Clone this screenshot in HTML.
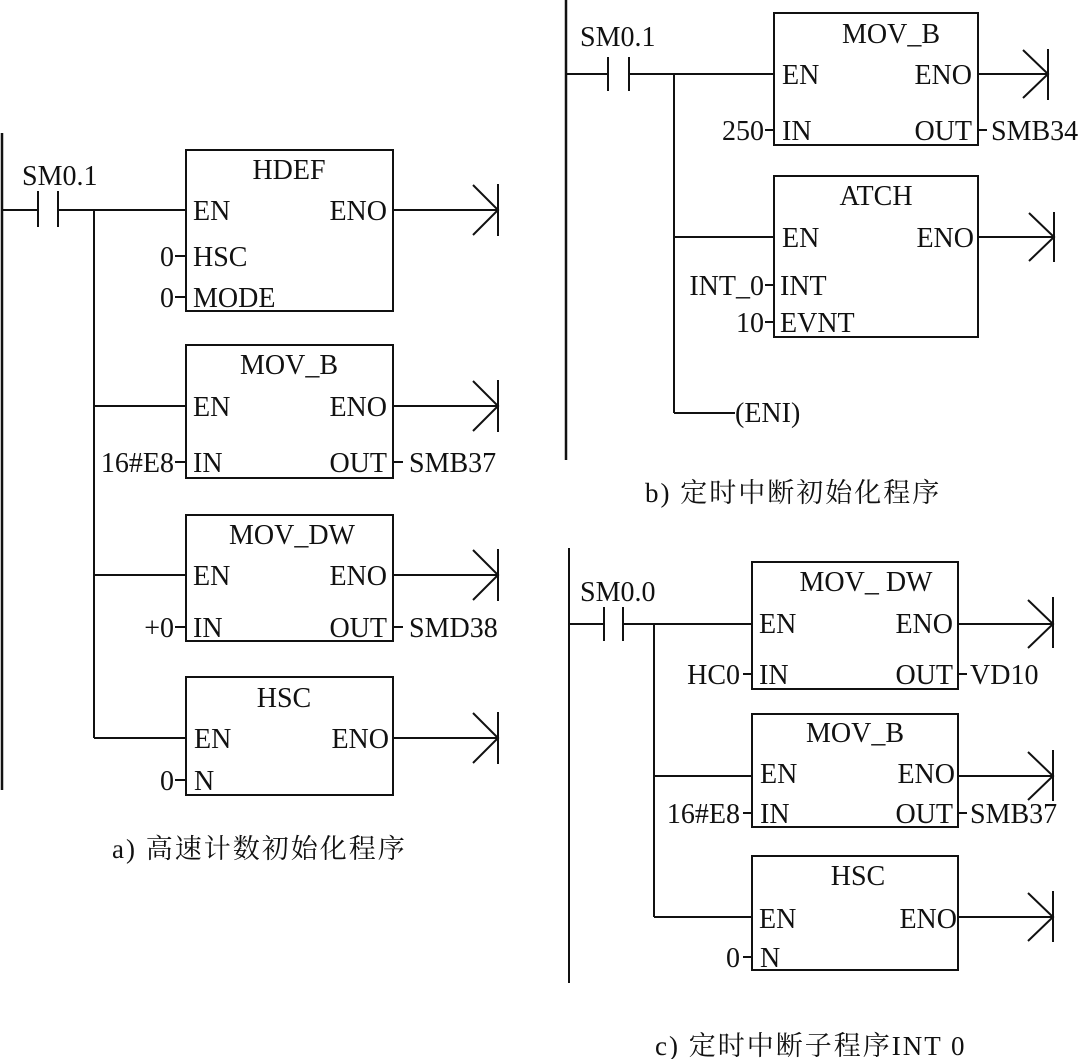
<!DOCTYPE html>
<html><head><meta charset="utf-8"><style>
html,body{margin:0;padding:0;background:#fff;}
svg{display:block}
text{font-family:"Liberation Serif","Noto Serif CJK SC",serif;font-size:28px;fill:#111;}
.c{font-family:"Liberation Serif","Noto Serif CJK SC",serif;font-size:27px;letter-spacing:2px}
</style></head><body>
<svg width="1091" height="1059" viewBox="0 0 1091 1059" xmlns="http://www.w3.org/2000/svg">
<g stroke="#111" stroke-width="2" fill="none">
<!-- a -->
<line x1="2" y1="133" x2="2" y2="790" stroke-width="2.5"/>
<line x1="2" y1="210" x2="38" y2="210"/>
<line x1="38" y1="191" x2="38" y2="227"/><line x1="58" y1="191" x2="58" y2="227"/>
<line x1="58" y1="210" x2="186" y2="210"/>
<line x1="94" y1="210" x2="94" y2="738"/>
<line x1="94" y1="406" x2="186" y2="406"/>
<line x1="94" y1="575" x2="186" y2="575"/>
<line x1="94" y1="738" x2="186" y2="738"/>
<rect x="186" y="150" width="207" height="161"/>
<rect x="186" y="345" width="207" height="133"/>
<rect x="186" y="515" width="207" height="126"/>
<rect x="186" y="677" width="207" height="118"/>
<line x1="175" y1="256" x2="186" y2="256"/><line x1="175" y1="297" x2="186" y2="297"/>
<line x1="175" y1="462" x2="186" y2="462"/><line x1="175" y1="627" x2="186" y2="627"/>
<line x1="175" y1="780" x2="186" y2="780"/>
<line x1="393" y1="462" x2="403" y2="462"/><line x1="393" y1="627" x2="403" y2="627"/>
<path d="M393 210H498M473 185L498 210L473 235M498 184V236"/>
<path d="M393 406H498M473 381L498 406L473 431M498 380V432"/>
<path d="M393 575H498M473 550L498 575L473 600M498 549V601"/>
<path d="M393 738H498M473 713L498 738L473 763M498 712V764"/>
<!-- b -->
<line x1="566" y1="0" x2="566" y2="460" stroke-width="2.5"/>
<line x1="566" y1="74" x2="608" y2="74"/>
<line x1="608" y1="57" x2="608" y2="91"/><line x1="629" y1="57" x2="629" y2="91"/>
<line x1="629" y1="74" x2="774" y2="74"/>
<line x1="674" y1="74" x2="674" y2="413"/>
<line x1="674" y1="237" x2="774" y2="237"/>
<line x1="674" y1="413" x2="735" y2="413"/>
<rect x="774" y="13" width="204" height="132"/>
<rect x="774" y="176" width="204" height="161"/>
<line x1="765" y1="130" x2="774" y2="130"/><line x1="765" y1="285" x2="774" y2="285"/><line x1="765" y1="322" x2="774" y2="322"/>
<line x1="978" y1="130" x2="987" y2="130"/>
<path d="M978 74H1048M1023 50L1048 74L1023 98M1048 49V100"/>
<path d="M978 237H1054M1029 213L1054 237L1029 261M1054 212V262"/>
<!-- c -->
<line x1="569" y1="548" x2="569" y2="983" stroke-width="2"/>
<line x1="569" y1="624" x2="604" y2="624"/>
<line x1="604" y1="607" x2="604" y2="641"/><line x1="623" y1="607" x2="623" y2="641"/>
<line x1="623" y1="624" x2="752" y2="624"/>
<line x1="654" y1="624" x2="654" y2="917"/>
<line x1="654" y1="776" x2="752" y2="776"/>
<line x1="654" y1="917" x2="752" y2="917"/>
<rect x="752" y="562" width="206" height="127"/>
<rect x="752" y="714" width="206" height="113"/>
<rect x="752" y="856" width="206" height="114"/>
<line x1="743" y1="674" x2="752" y2="674"/><line x1="743" y1="813" x2="752" y2="813"/><line x1="743" y1="957" x2="752" y2="957"/>
<line x1="958" y1="674" x2="967" y2="674"/><line x1="958" y1="813" x2="967" y2="813"/>
<path d="M958 624H1053M1028 600L1053 624L1028 648M1053 597V648"/>
<path d="M958 776H1053M1028 752L1053 776L1028 800M1053 750V801"/>
<path d="M958 917H1053M1028 893L1053 917L1028 941M1053 891V942"/>
</g>
<!-- a text -->
<text x="22" y="185">SM0.1</text>
<text x="289" y="179" text-anchor="middle">HDEF</text>
<text x="193" y="220">EN</text><text x="387" y="220" text-anchor="end">ENO</text>
<text x="193" y="266">HSC</text><text x="174" y="266" text-anchor="end">0</text>
<text x="193" y="307">MODE</text><text x="174" y="307" text-anchor="end">0</text>
<text x="289" y="374" text-anchor="middle">MOV_B</text>
<text x="193" y="416">EN</text><text x="387" y="416" text-anchor="end">ENO</text>
<text x="193" y="472">IN</text><text x="174" y="472" text-anchor="end">16#E8</text>
<text x="387" y="472" text-anchor="end">OUT</text><text x="409" y="472">SMB37</text>
<text x="292" y="544" text-anchor="middle">MOV_DW</text>
<text x="193" y="585">EN</text><text x="387" y="585" text-anchor="end">ENO</text>
<text x="193" y="637">IN</text><text x="174" y="637" text-anchor="end">+0</text>
<text x="387" y="637" text-anchor="end">OUT</text><text x="409" y="637">SMD38</text>
<text x="284" y="707" text-anchor="middle">HSC</text>
<text x="194" y="748">EN</text><text x="389" y="748" text-anchor="end">ENO</text>
<text x="194" y="790">N</text><text x="174" y="790" text-anchor="end">0</text>
<text class="c" x="112" y="858">a) 高速计数初始化程序</text>
<!-- b text -->
<text x="580" y="46">SM0.1</text>
<text x="891" y="43" text-anchor="middle">MOV_B</text>
<text x="782" y="84">EN</text><text x="972" y="84" text-anchor="end">ENO</text>
<text x="782" y="140">IN</text><text x="764" y="140" text-anchor="end">250</text>
<text x="972" y="140" text-anchor="end">OUT</text><text x="991" y="140">SMB34</text>
<text x="876" y="205" text-anchor="middle">ATCH</text>
<text x="782" y="247">EN</text><text x="974" y="247" text-anchor="end">ENO</text>
<text x="780" y="295">INT</text><text x="764" y="295" text-anchor="end">INT_0</text>
<text x="780" y="332">EVNT</text><text x="764" y="332" text-anchor="end">10</text>
<text x="735" y="422">(ENI)</text>
<text class="c" x="645" y="502">b) 定时中断初始化程序</text>
<!-- c text -->
<text x="580" y="601">SM0.0</text>
<text x="866" y="591" text-anchor="middle">MOV_ DW</text>
<text x="759" y="633">EN</text><text x="953" y="633" text-anchor="end">ENO</text>
<text x="759" y="684">IN</text><text x="740" y="684" text-anchor="end">HC0</text>
<text x="953" y="684" text-anchor="end">OUT</text><text x="970" y="684">VD10</text>
<text x="855" y="742" text-anchor="middle">MOV_B</text>
<text x="760" y="783">EN</text><text x="955" y="783" text-anchor="end">ENO</text>
<text x="760" y="823">IN</text><text x="740" y="823" text-anchor="end">16#E8</text>
<text x="953" y="823" text-anchor="end">OUT</text><text x="970" y="823">SMB37</text>
<text x="858" y="885" text-anchor="middle">HSC</text>
<text x="759" y="928">EN</text><text x="957" y="928" text-anchor="end">ENO</text>
<text x="760" y="967">N</text><text x="740" y="967" text-anchor="end">0</text>
<text class="c" x="655" y="1055">c) 定时中断子程序INT 0</text>
</svg>
</body></html>
